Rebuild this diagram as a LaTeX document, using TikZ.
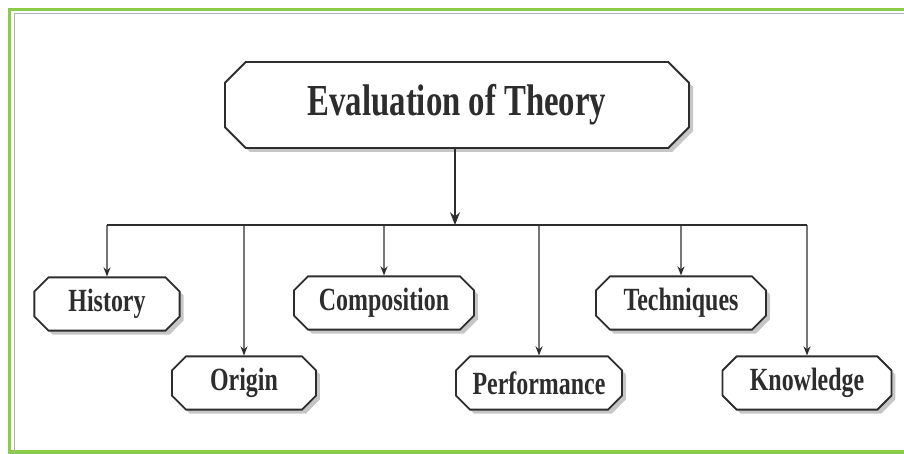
\documentclass[tikz,border=0pt]{standalone}
\usepackage{fontspec}
\newfontfamily\boxfont[FakeStretch=0.74]{Liberation Serif}
\usepackage{tikz}
\usetikzlibrary{arrows.meta}
\usetikzlibrary{shapes.misc}
\usetikzlibrary{shadows}
\definecolor{framegreen}{RGB}{138,204,72}
\definecolor{ink}{RGB}{45,45,45}
\tikzstyle{topic}=[chamfered rectangle, chamfered rectangle xsep=0.25cm, draw=ink, line width=1.3pt, fill=white, text=ink, inner sep=0pt, minimum height=1.33cm, font=\boxfont\bfseries\fontsize{23}{26}\selectfont, drop shadow={shadow xshift=2.8pt, shadow yshift=-2.8pt, fill=black!50, opacity=0.45}]
\tikzstyle{head}=[topic, chamfered rectangle xsep=0.42cm, minimum width=11.6cm, minimum height=2.15cm, font=\boxfont\bfseries\fontsize{31.5}{36}\selectfont]
\tikzstyle{tran}=[draw=ink, line width=1pt, -{Stealth[length=6.5pt, width=5pt]}]
\tikzstyle{bar}=[draw=ink, line width=1pt]

\begin{document}
\begin{tikzpicture}[x=0.025cm, y=-0.025cm]
\useasboundingbox (0,0) rectangle (904,454);
\clip (0,0) rectangle (904,454);

% double frame round the page
\draw[framegreen, line width=2.2pt] (9.5,9.5) rectangle (930,452);
\draw[black!30, line width=0.6pt] (14.5,454) -- (14.5,13.5) -- (904,13.5);

\node[head] (theory) at (457,105) {Evaluation of Theory};

\node[topic, minimum width=3.63cm] (history)     at (107,304) {History};
\node[topic, minimum width=3.60cm] (origin)      at (244,383) {Origin};
\node[topic, minimum width=4.50cm] (composition) at (384,303) {Composition};
\node[topic, minimum width=4.15cm] (performance) at (539,383) {Performance};
\node[topic, minimum width=4.25cm] (techniques)  at (681,303) {Techniques};
\node[topic, minimum width=4.22cm] (knowledge)   at (807,383) {Knowledge};

\coordinate (bus) at (455,225);

\draw[tran, line width=1.7pt, -{Stealth[length=9pt, width=7pt]}] (theory.south -| bus) -- (bus);
\draw[bar] (history |- bus) -- (knowledge |- bus);
\draw[tran] (history |- bus)     -- (history);
\draw[tran] (origin |- bus)      -- (origin);
\draw[tran] (composition |- bus) -- (composition);
\draw[tran] (performance |- bus) -- (performance);
\draw[tran] (techniques |- bus)  -- (techniques);
\draw[tran] (knowledge |- bus)   -- (knowledge);

\end{tikzpicture}
\end{document}
